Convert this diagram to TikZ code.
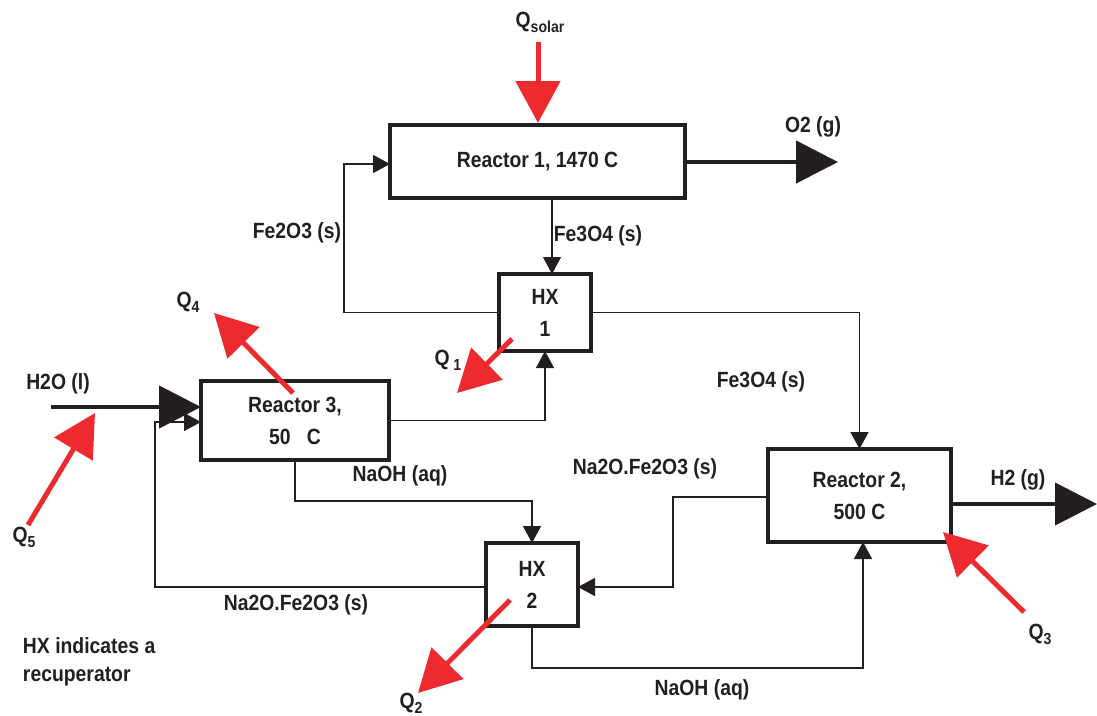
\documentclass[tikz,border=0pt]{standalone}
\usepackage{fontspec}
\setmainfont[FakeStretch=0.88]{Liberation Sans}
\usetikzlibrary{arrows.meta}
\definecolor{qred}{HTML}{EC2A2F}
\definecolor{ink}{HTML}{231F20}
\newcommand{\qsub}[1]{\raisebox{-5pt}{\fontsize{16}{16}\selectfont #1}}
\begin{document}
\begin{tikzpicture}[x=1pt,y=-1pt,
  every node/.style={font=\fontsize{22}{32}\selectfont\bfseries, text=ink, inner sep=0pt, outer sep=0pt},
  box/.style={draw=ink, line width=4.5pt, fill=white, align=center},
  flow/.style={draw=ink, line width=1.4pt, -{Triangle[length=17pt,width=18pt]}},
  bigflow/.style={draw=ink, line width=4.5pt, -{Triangle[length=42pt,width=42pt]}},
  heat/.style={draw=qred, line width=5pt, -{Triangle[length=42pt,width=44pt]}}]
\useasboundingbox (0,0) rectangle (1097,715);

% units
\node[box, minimum width=295pt, minimum height=73pt] (r1) at (537.5,161.5) {Reactor 1, 1470 C};
\node[box, minimum width=92pt, minimum height=77pt] (hx1) at (545,312.5) {HX\\1};
\node[box, minimum width=188pt, minimum height=79pt] (r3) at (295,420.5) {Reactor 3,\\50\ \ \ C};
\node[box, minimum width=183pt, minimum height=93pt] (r2) at (859.5,495.5) {Reactor 2,\\500 C};
\node[box, minimum width=92pt, minimum height=83pt] (hx2) at (532,584.5) {HX\\2};

% free ends
\coordinate (o2end) at (838,162);
\coordinate (h2end) at (1097,504);
\coordinate (h2oin) at (51,407);

% streams
\draw[flow] (r1.south -| 552,0) -- (hx1.north -| 552,0);
\draw[flow] (hx1.west) -| (344,164) -- (r1.west |- 0,164);
\draw[flow] (hx1.east) -| (r2.north);
\draw[flow] (r3.east) -| (hx1.south);
\draw[flow] (r3.south) -- (295,501) -| (hx2.north);
\draw[flow] (hx2.west |- 0,587) -| (155,422) -- (r3.west |- 0,422);
\draw[flow] (r2.west |- 0,497) -| (673,587) -- (hx2.east |- 0,587);
\draw[flow] (hx2.south) -- (532,668) -| (r2.south -| 863,0);
\draw[bigflow] (r1.east |- 0,162) -- (o2end);
\draw[bigflow] (r2.east |- 0,504) -- (h2end);
\draw[bigflow] (h2oin) -- (r3.west |- 0,407);

% labels
\node (lqs) at (540,22) {Q\qsub{solar}};
\node (lo2) at (813,127) {O2 (g)};
\node (lfe3a) at (598,236) {Fe3O4 (s)};
\node (lfe2) at (297,233) {Fe2O3 (s)};
\node (lfe3b) at (761,382) {Fe3O4 (s)};
\node (lq4) at (188,302) {Q\qsub{4}};
\node (lq1) at (448,360) {Q\,\qsub{1}};
\node (lh2o) at (58,384) {H2O (l)};
\node (lq5) at (24,537) {Q\qsub{5}};
\node (lnaoha) at (400,476) {NaOH (aq)};
\node (lna2a) at (645,469) {Na2O.Fe2O3 (s)};
\node (lh2) at (1018,480) {H2 (g)};
\node (lq3) at (1040,634) {Q\qsub{3}};
\node (lna2b) at (296,605) {Na2O.Fe2O3 (s)};
\node[anchor=west, align=left, font=\fontsize{22}{28}\selectfont\bfseries] (note) at (23,662) {HX indicates a\\recuperator};
\node (lnaohb) at (702,690) {NaOH (aq)};
\node (lq2) at (411,703) {Q\qsub{2}};

% heat arrows
\coordinate (qs0) at (538,42);
\coordinate (qs1) at (538,123);
\coordinate (q10) at (512,339);
\coordinate (q11) at (457,393);
\coordinate (q20) at (510,600);
\coordinate (q21) at (418,693);
\coordinate (q30) at (1024,612);
\coordinate (q31) at (943,532);
\coordinate (q40) at (293,393);
\coordinate (q41) at (214,313);
\coordinate (q50) at (28,525);
\coordinate (q51) at (95,413);
\draw[heat] (qs0) -- (qs1);
\draw[heat] (q10) -- (q11);
\draw[heat] (q20) -- (q21);
\draw[heat] (q30) -- (q31);
\draw[heat] (q40) -- (q41);
\draw[heat] (q50) -- (q51);
\end{tikzpicture}
\end{document}
